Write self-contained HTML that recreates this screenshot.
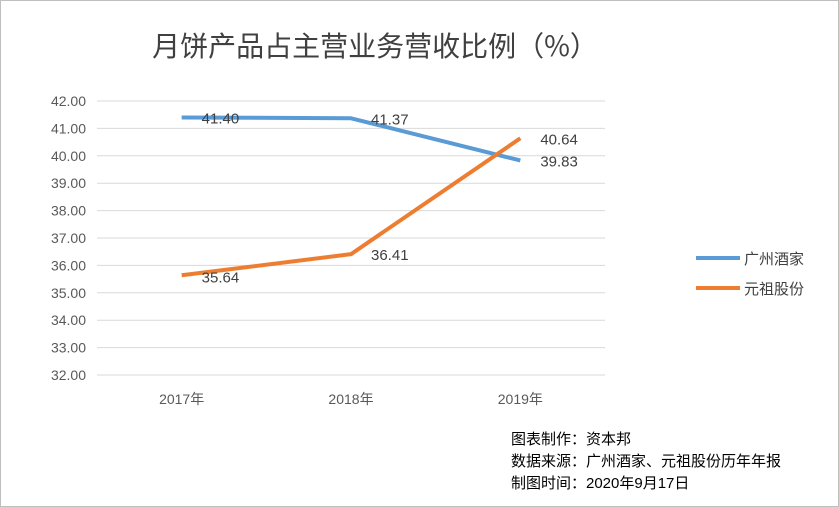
<!DOCTYPE html>
<html><head><meta charset="utf-8"><style>
html,body{margin:0;padding:0;background:#fff;}
svg{display:block;font-family:"Liberation Sans","Noto Sans CJK SC",sans-serif;}
</style></head><body>
<svg id="chart" width="839" height="507" viewBox="0 0 839 507">
<rect x="0.5" y="0.5" width="838" height="506" fill="#fff" stroke="#bfbfbf"/>
<text x="375" y="56" text-anchor="middle" font-size="28" fill="#404040" font-family="'Noto Sans CJK SC',sans-serif">月饼产品占主营业务营收比例（%）</text>
<g id="grid"></g><g id="series"></g>
<g>
<line x1="696" y1="258" x2="740" y2="258" stroke="#5b9bd5" stroke-width="4"/>
<text x="744" y="264" font-size="15" fill="#404040">广州酒家</text>
<line x1="696" y1="288" x2="740" y2="288" stroke="#ed7d31" stroke-width="4"/>
<text x="744" y="294" font-size="15" fill="#404040">元祖股份</text>
</g>
<g font-size="15" fill="#000">
<text x="511" y="444">图表制作：资本邦</text>
<text x="511" y="466">数据来源：广州酒家、元祖股份历年年报</text>
<text x="511" y="488">制图时间：2020年9月17日</text>
</g>
</svg>
<script>
const categories=["2017年","2018年","2019年"];
const guangzhou=[41.40,41.37,39.83];
const yuanzu=[35.64,36.41,40.64];
const yTicks=[32,33,34,35,36,37,38,39,40,41,42];
const ns="http://www.w3.org/2000/svg";
const X0=97,X1=605,Y0=375,Y1=101,vmin=32,vmax=42;
const xs=i=>X0+(X1-X0)/categories.length*(i+0.5);
const ys=v=>Y0-(v-vmin)/(vmax-vmin)*(Y0-Y1);
function mk(t,a,p){const e=document.createElementNS(ns,t);for(const k in a)e.setAttribute(k,a[k]);p.appendChild(e);return e;}
const g=document.getElementById('grid');
yTicks.forEach(v=>{
 const l=mk('line',{x1:X0,x2:X1,y1:ys(v),y2:ys(v),stroke:'#d9d9d9','stroke-width':1},g);
 
 
 const t=mk('text',{x:86,y:ys(v)+5,'text-anchor':'end','font-size':14,fill:'#595959'},g);
 t.textContent=v.toFixed(2);
 
 
});
categories.forEach((c,i)=>{
 const t=mk('text',{x:xs(i),y:404,'text-anchor':'middle','font-size':14,fill:'#595959'},g);
 t.textContent=c;
 
 
});
const s=document.getElementById('series');
function draw(vals,color,name,offs){
 const p=mk('polyline',{points:vals.map((v,i)=>xs(i)+','+ys(v)).join(' '),fill:'none',stroke:color,'stroke-width':4,'stroke-linejoin':'round'},s);
 
 
 vals.forEach((v,i)=>{
  const t=mk('text',{x:xs(i)+20,y:ys(v)+offs[i],'font-size':15,fill:'#404040'},s);
  t.textContent=v.toFixed(2);
  
  
 });
}
draw(guangzhou,'#5b9bd5','guangzhou',[6,6,6]);
draw(yuanzu,'#ed7d31','yuanzu',[7,6,6]);
</script>
</body></html>
